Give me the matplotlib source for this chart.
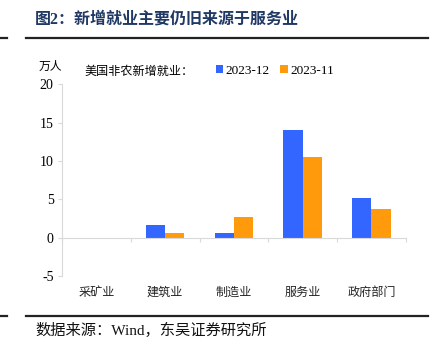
import numpy as np
import matplotlib
matplotlib.use("Agg")
from matplotlib import pyplot as plt
from matplotlib.lines import Line2D

plt.rcParams["font.family"] = ["Noto Sans CJK SC", "DejaVu Sans"]

# data (万人)
categories = ["采矿业", "建筑业", "制造业", "服务业", "政府部门"]
dec_2023 = [-0.05, 1.7, 0.6, 14.1, 5.2]
nov_2023 = [-0.15, 0.6, 2.7, 10.5, 3.7]
series_names = ["2023-12", "2023-11"]
y_ticks = [-5, 0, 5, 10, 15, 20]

BLUE = "#3366ff"
ORANGE = "#ff9a0d"
GRID = "#d9d9d9"
SERIF = ["Liberation Serif", "DejaVu Serif"]
MIXED = ["Liberation Serif", "Noto Sans CJK SC", "DejaVu Sans"]

fig = plt.figure(figsize=(4.34, 3.59), dpi=100)
ax = fig.add_axes([0.143, 0.231, 0.792, 0.534])

x = np.arange(len(categories))
w = 0.28
ax.bar(x - w / 2, dec_2023, w, color=BLUE, label=series_names[0])
ax.bar(x + w / 2, nov_2023, w, color=ORANGE, label=series_names[1])

ax.set_xlim(-0.5, len(categories) - 0.5)
ax.set_ylim(-5, 20)
ax.set_yticks(y_ticks)
ax.set_yticklabels([str(v) for v in y_ticks], fontfamily=SERIF, fontsize=10)
ax.tick_params(axis="y", length=3, color=GRID, pad=3)

# x axis sits on zero, ticks mark category boundaries
for s in ("top", "right"):
    ax.spines[s].set_visible(False)
ax.spines["left"].set_color(GRID)
ax.spines["bottom"].set_position(("data", 0))
ax.spines["bottom"].set_color(GRID)
ax.set_xticks(np.arange(len(categories) + 1) - 0.5)
ax.set_xticklabels([])
ax.tick_params(axis="x", length=3, color=GRID)
for i, c in enumerate(categories):
    ax.text(i, -0.085, c, transform=ax.get_xaxis_transform(),
            ha="center", va="center", fontsize=8.7, color="#222222")

# unit + legend
fig.text(0.117, 1 - 66 / 359, "万人", ha="center", va="center", fontsize=8.5)
fig.text(0.194, 1 - 71 / 359, "美国非农新增就业：", ha="left", va="center", fontsize=8.7)
fig.legend(loc="center left", bbox_to_anchor=(0.482, 1 - 71 / 359), ncol=2,
           frameon=False, borderpad=0, handlelength=0.55, handleheight=0.55,
           handletextpad=0.2, columnspacing=0.8,
           prop={"family": SERIF, "size": 9.5})

# title, rules and source
fig.text(0.081, 1 - 20 / 359, "图2：新增就业主要仍旧来源于服务业", ha="left", va="center",
         fontsize=11.5, fontweight="bold", color="#1f3864", family=MIXED)
for yy in (37.5, 316):
    yf = 1 - yy / 359
    fig.add_artist(Line2D([26 / 434, 428 / 434], [yf, yf], color="#222222", lw=1.6))
    fig.add_artist(Line2D([0, 7 / 434], [yf, yf], color="#222222", lw=1.6))
fig.text(0.081, 1 - 330 / 359, "数据来源：Wind，东吴证券研究所", ha="left", va="center",
         fontsize=11, color="#111111", family=MIXED)

fig.savefig("out.png", dpi=100)
